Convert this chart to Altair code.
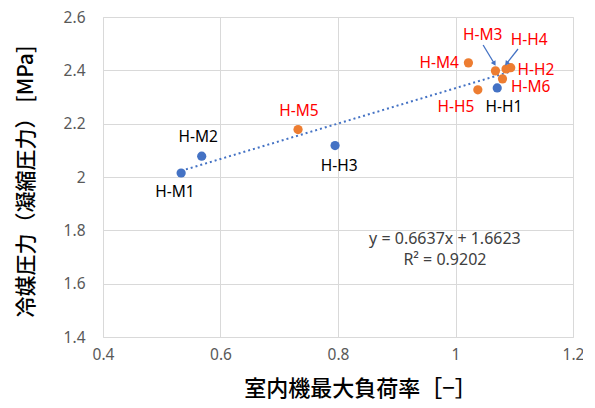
import altair as alt
import pandas as pd

# ---- data ----
names = ["H-M1", "H-M2", "H-M5", "H-H3", "H-M4", "H-H5", "H-H1", "H-M3", "H-M6", "H-H2", "H-H4"]
load_ratio = [0.533, 0.568, 0.732, 0.795, 1.022, 1.038, 1.071, 1.068, 1.080, 1.094, 1.086]
pressure = [2.015, 2.078, 2.178, 2.118, 2.428, 2.327, 2.334, 2.398, 2.368, 2.410, 2.405]
series = ["A", "A", "B", "A", "B", "B", "A", "B", "B", "B", "B"]

label_x = [0.5226, 0.5622, 0.7336, 0.8022, 0.9724, 1.0009, 1.0826, 1.0463, 1.1279, 1.1370, 1.1256]
label_y = [1.945, 2.151, 2.2487, 2.0413, 2.4287, 2.2614, 2.2614, 2.5325, 2.3367, 2.4007, 2.5138]

eq_text = ["y = 0.6637x + 1.6623", "R² = 0.9202"]
eq_x = [0.982, 0.982]
eq_y = [1.768, 1.689]

arrow_x = [1.047, 1.1064]
arrow_y = [2.495, 2.480]
arrow_x2 = [1.0655, 1.0877]
arrow_y2 = [2.4275, 2.4275]
arrow_angle = [149, 218]

x_ticks = [0.4, 0.6, 0.8, 1.0, 1.2]
y_ticks = [1.4, 1.6, 1.8, 2.0, 2.2, 2.4, 2.6]

BLUE = "#4472C4"
ORANGE = "#ED7D31"
point_colors = {"A": BLUE, "B": ORANGE}
label_colors = {"A": "#000000", "B": "#FF0000"}

pts = pd.DataFrame({"name": names, "x": load_ratio, "y": pressure, "s": series,
                    "lx": label_x, "ly": label_y})
pts["pc"] = pts["s"].map(point_colors)
pts["lc"] = pts["s"].map(label_colors)
eq = pd.DataFrame({"t": eq_text, "x": eq_x, "y": eq_y})
arr = pd.DataFrame({"x": arrow_x, "y": arrow_y, "x2": arrow_x2, "y2": arrow_y2, "a": arrow_angle})

xs = alt.Scale(domain=[0.4, 1.2], nice=False, zero=False)
ys = alt.Scale(domain=[1.4, 2.6], nice=False, zero=False)

x_axis = alt.Axis(values=x_ticks, format="~g", title="室内機最大負荷率［−］",
                  titleFont="Noto Sans CJK JP", titleFontSize=22, titleFontWeight=500,
                  titleColor="#000000", titleX=257, titleY=51, titleBaseline="middle",
                  titleAlign="center", labelFont="Noto Sans", labelFontSize=15.5,
                  labelColor="#595959", labelPadding=10, labelFlush=False, ticks=False,
                  domain=False, grid=True, gridColor="#D9D9D9", gridWidth=1)
y_axis = alt.Axis(values=y_ticks, format="~g", title="冷媒圧力（凝縮圧力） [MPa]",
                  titleFont="Noto Sans CJK JP", titleFontSize=21, titleFontWeight=500,
                  titleColor="#000000", titleX=-77, titleY=164, titleBaseline="middle",
                  titleAlign="center", labelFont="Noto Sans", labelFontSize=15.5,
                  labelColor="#595959", labelPadding=18, labelFlush=False, ticks=False,
                  domain=False, grid=True, gridColor="#D9D9D9", gridWidth=1)

base = alt.Chart(pts)

trend = base.transform_regression("x", "y").mark_line(
    color=BLUE, strokeWidth=2, strokeDash=[2, 3]
).encode(x=alt.X("x:Q", scale=xs, axis=x_axis), y=alt.Y("y:Q", scale=ys, axis=y_axis))

points = base.mark_circle(size=85, opacity=1).encode(
    x=alt.X("x:Q", scale=xs),
    y=alt.Y("y:Q", scale=ys),
    color=alt.Color("pc:N", scale=None),
    order=alt.Order("s:N"),
)

labels = base.mark_text(font="Noto Sans", fontSize=15.5, align="center", baseline="middle").encode(
    x=alt.X("lx:Q", scale=xs),
    y=alt.Y("ly:Q", scale=ys),
    text="name:N",
    color=alt.Color("lc:N", scale=None),
)

arrows = alt.Chart(arr).mark_rule(color=BLUE, strokeWidth=1.3).encode(
    x=alt.X("x:Q", scale=xs), y=alt.Y("y:Q", scale=ys),
    x2="x2:Q", y2="y2:Q",
)
heads = alt.Chart(arr).mark_point(shape="triangle", filled=True, size=30, color=BLUE, opacity=1).encode(
    x=alt.X("x2:Q", scale=xs), y=alt.Y("y2:Q", scale=ys), angle=alt.Angle("a:Q", scale=None),
)

eqs = alt.Chart(eq).mark_text(font="Noto Sans", fontSize=16, color="#404040",
                              align="center", baseline="middle").encode(
    x=alt.X("x:Q", scale=xs), y=alt.Y("y:Q", scale=ys), text="t:N",
)

chart = alt.layer(trend, points, labels, arrows, heads, eqs).properties(
    width=470, height=320,
    autosize=alt.AutoSizeParams(type="none"),
    padding={"left": 95, "top": 9, "right": 10, "bottom": 63},
).configure_view(stroke="#262626", strokeWidth=1.5).configure(background="white")

chart.save("out.html", embed_options={"renderer": "svg", "actions": False})
